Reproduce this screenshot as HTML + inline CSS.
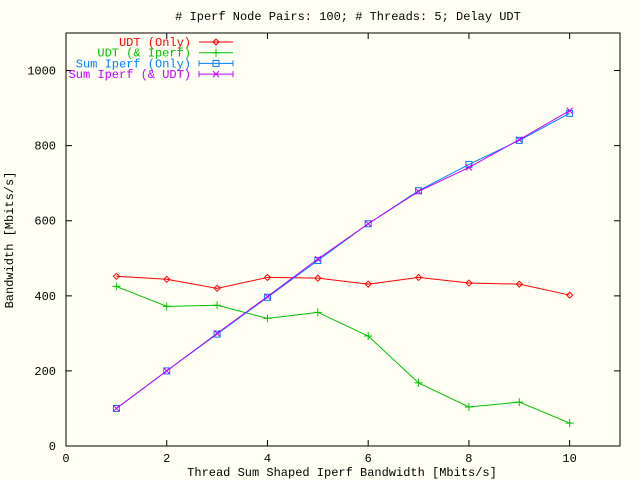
<!DOCTYPE html>
<html><head><meta charset="utf-8"><style>
body{margin:0;background:#fffff4}
svg{display:block;font-family:"Liberation Mono",monospace;font-size:12px}
</style></head><body>
<svg width="640" height="480">
<rect width="640" height="480" fill="#fffff4"/>
<g id="axes"></g><g id="series"></g><g id="legend"></g>
<text x="348" y="20" text-anchor="middle"># Iperf Node Pairs: 100; # Threads: 5; Delay UDT</text>
<text x="342" y="476" text-anchor="middle">Thread Sum Shaped Iperf Bandwidth [Mbits/s]</text>
<text x="13" y="240" text-anchor="middle" transform="rotate(-90 13 240)">Bandwidth [Mbits/s]</text>
</svg>
<script>
const xs=[1,2,3,4,5,6,7,8,9,10];
const udtOnly=[452,444,420,449,447,431,449,434,431,402];
const udtIperf=[425,372,375,340,356,293,168,104,117,61];
const sumIperfOnly=[100,200,298,396,494,592,680,750,814,886];
const sumIperfUdt=[100,200,300,398,498,592,678,742,816,893];
const xTicks=[0,2,4,6,8,10];
const yTicks=[0,200,400,600,800,1000];
const NS="http://www.w3.org/2000/svg";
const X0=66,X1=620,Y0=446,Y1=33,XMAX=11,YMAX=1100;
const sx=v=>X0+v/XMAX*(X1-X0), sy=v=>Y0-v/YMAX*(Y0-Y1);
function mk(t,a,p){const e=document.createElementNS(NS,t);for(const k in a)e.setAttribute(k,a[k]);p.appendChild(e);return e;}
const ax=document.getElementById('axes');
const frame=mk('rect',{x:X0,y:Y1,width:X1-X0,height:Y0-Y1,fill:'none',stroke:'#000'},ax);


xTicks.forEach(v=>{const x=sx(v);
 const l=mk('path',{d:`M${x},${Y0}v-6M${x},${Y1}v6`,stroke:'#000'},ax);
 
 
 const t=mk('text',{x:x,y:Y0+16,'text-anchor':'middle'},ax);t.textContent=v;
 
 });
yTicks.forEach(v=>{const y=sy(v);
 const l=mk('path',{d:`M${X0},${y}h6M${X1},${y}h-6`,stroke:'#000'},ax);
 
 
 const t=mk('text',{x:X0-10,y:y+4,'text-anchor':'end'},ax);t.textContent=v;
 
 });
const sg=document.getElementById('series');
function marker(type,x,y,c,p){
 if(type==='diamond')return mk('path',{d:`M${x-3},${y}L${x},${y-3}L${x+3},${y}L${x},${y+3}Z`,fill:'none',stroke:c},p);
 if(type==='plus')return mk('path',{d:`M${x-4},${y}h8M${x},${y-4}v8`,stroke:c},p);
 if(type==='square')return mk('rect',{x:x-3,y:y-3,width:6,height:6,fill:'none',stroke:c},p);
 return mk('path',{d:`M${x-3},${y-3}l6,6M${x-3},${y+3}l6,-6`,stroke:c},p);}
const series=[
 {n:'UDT (Only)',d:udtOnly,c:'#ff0000',m:'diamond',id:'udt-only'},
 {n:'UDT (& Iperf)',d:udtIperf,c:'#00c000',m:'plus',id:'udt-and-iperf'},
 {n:'Sum Iperf (Only)',d:sumIperfOnly,c:'#0080ff',m:'square',id:'sum-iperf-only'},
 {n:'Sum Iperf (& UDT)',d:sumIperfUdt,c:'#c000ff',m:'cross',id:'sum-iperf-and-udt'}];
const lg=document.getElementById('legend');
series.forEach((s,i)=>{
 const g=mk('g',{},sg);
 
 
 const pl=mk('polyline',{points:xs.map((x,j)=>sx(x)+','+sy(s.d[j])).join(' '),fill:'none',stroke:s.c},g);
 
 
 xs.forEach((x,j)=>{const m=marker(s.m,sx(x),sy(s.d[j]),s.c,g);
  
  });
 const y=42+i*10.7;
 const le=mk('g',{},lg);
 
 
 const t=mk('text',{x:191,y:y+4,'text-anchor':'end',fill:s.c},le);t.textContent=s.n;
 mk('path',{d:`M199,${y}h34`+(s.m==='square'||s.m==='cross'?`M199,${y-3}v6M233,${y-3}v6`:''),stroke:s.c},le);
 marker(s.m,216,y,s.c,le);
});
</script>
</body></html>
